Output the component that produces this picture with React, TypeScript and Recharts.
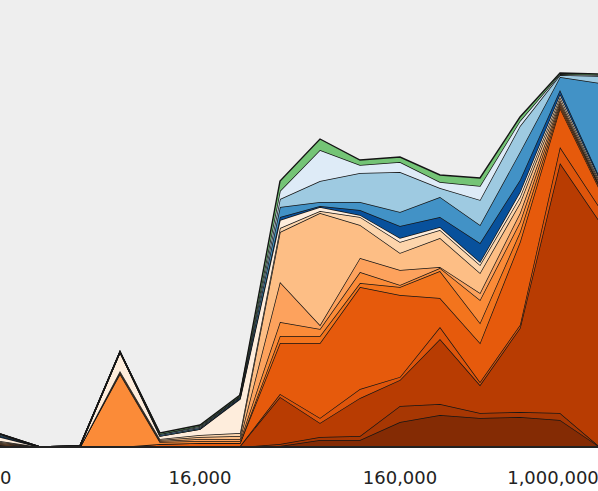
import React from "react";
import { AreaChart, Area, XAxis, YAxis, CartesianGrid } from "recharts";

// x positions (category index) and the labelled ticks
const STEPS = [0, 1, 2, 3, 4, 5, 6, 7, 8, 9, 10, 11, 12, 13, 14, 15];
const TICK_POS = [0, 5, 10, 14];
const TICK_TEXT = ["0", "16,000", "160,000", "1,000,000"];

// layer thicknesses, bottom → top
const A = [0, 0, 0, 0, 0, 0, 0, 1, 7, 7, 25, 32, 29, 30, 27, 0];
const B = [0, 0, 0, 0, 0, 0, 0, 2, 3, 4, 16, 11, 5, 5, 7, 0];
const C = [1, 0, 0, 0, 1, 1, 1, 47, 14, 38, 26, 65, 28, 84, 250, 225];
const D = [0, 0, 0, 0, 0, 0, 0, 3, 5, 9, 3, 12, 3, 3, 16, 14];
const E = [1, 0, 0, 0, 2, 3, 3, 51, 75, 102, 82, 29, 39, 83, 39, 18];
const F = [0, 0, 0, 0, 0, 0, 0, 7, 7, 4, 8, 27, 20, 10, 2, 2];
const G = [1, 0, 0, 73, 2, 2, 2, 14, 7, 11, 2, 3, 23, 10, 2, 1];
const H = [1, 0, 0, 1, 1, 2, 2, 40, 4, 14, 15, 1, 7, 9, 2, 1];
const I = [1, 0, 0, 1, 1, 2, 3, 50, 112, 33, 17, 29, 20, 10, 2, 2];
const J = [1, 0, 0, 1, 1, 2, 3, 4, 2, 8, 11, 8, 8, 6, 3, 2];
const K = [4, 0, 1, 19, 3, 6, 34, 8, 4, 2, 4, 3, 3, 5, 3, 2];
const L = [1, 0, 0, 0, 0, 0, 1, 3, 1, 5, 12, 10, 19, 12, 4, 2];
const M = [1, 0, 0, 0, 1, 1, 1, 10, 4, 8, 14, 20, 18, 28, 13, 95];
const N = [1, 0, 0, 0, 1, 1, 1, 8, 21, 29, 40, 9, 25, 26, 2, 7];
const O = [0, 0, 0, 0, 0, 1, 0, 8, 31, 8, 10, 6, 14, 5, 1, 1];
const P = [0, 0, 0, 0, 1, 1, 1, 10, 11, 5, 5, 7, 8, 4, 1, 1];

const LAYERS = [
  { key: "a", values: A, color: "#842b04" },
  { key: "b", values: B, color: "#a73703" },
  { key: "c", values: C, color: "#b83c02" },
  { key: "d", values: D, color: "#df550b" },
  { key: "e", values: E, color: "#e65a0c" },
  { key: "f", values: F, color: "#f3741d" },
  { key: "g", values: G, color: "#fb8b38" },
  { key: "h", values: H, color: "#fda25d" },
  { key: "i", values: I, color: "#fdbe85" },
  { key: "j", values: J, color: "#fdd5ac" },
  { key: "k", values: K, color: "#feeddc" },
  { key: "l", values: L, color: "#08519c" },
  { key: "m", values: M, color: "#4292c6" },
  { key: "n", values: N, color: "#9ecae1" },
  { key: "o", values: O, color: "#deebf7" },
  { key: "p", values: P, color: "#74c476" },
];

const rows = STEPS.map((s, i) => {
  const r: Record<string, number> = { s };
  LAYERS.forEach((l) => (r[l.key] = l.values[i]));
  return r;
});

function Tick(props: any) {
  const { x, y, payload } = props;
  const idx = TICK_POS.indexOf(payload.value);
  const first = idx === 0;
  const last = idx === TICK_POS.length - 1;
  return (
    <text
      x={x}
      y={y}
      dx={last ? -7 : 0}
      dy="0.71em"
      textAnchor={first ? "start" : "middle"}
      fill="#222"
      fontSize={18}
      fontFamily="DejaVu Sans"
    >
      {TICK_TEXT[idx]}
    </text>
  );
}

export default function App() {
  return (
    <div style={{ position: "absolute", left: 0, top: 0, width: 598, height: 491, overflow: "hidden", background: "#fff" }}>
      <AreaChart width={600} height={491} data={rows} margin={{ top: 0, right: 0, bottom: 0, left: 0 }}>
        <CartesianGrid fill="#eeeeee" horizontal={false} vertical={false} />
        <XAxis
          dataKey="s"
          type="number"
          domain={[0, 15]}
          ticks={TICK_POS}
          interval={0}
          height={44}
          tickSize={0}
          tickLine={false}
          tickMargin={24}
          axisLine={{ stroke: "#222", strokeWidth: 2 }}
          tick={<Tick />}
        />
        <YAxis hide domain={[0, 447]} />
        {LAYERS.map((l) => (
          <Area
            key={l.key}
            type="linear"
            dataKey={l.key}
            stackId="1"
            fill={l.color}
            fillOpacity={1}
            stroke="#151515"
            strokeWidth={1.4}
            dot={false}
            activeDot={false}
            isAnimationActive={false}
          />
        ))}
      </AreaChart>
    </div>
  );
}
